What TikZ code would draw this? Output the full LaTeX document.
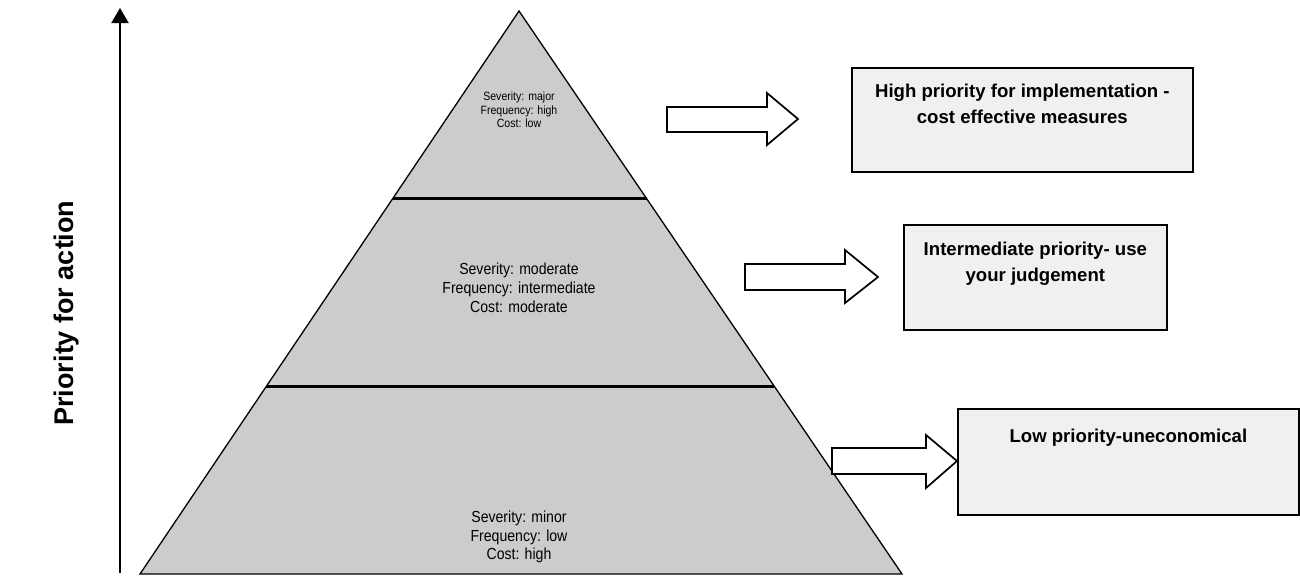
\documentclass[tikz,border=0pt]{standalone}
\usepackage{fontspec}
\setmainfont{Liberation Sans}
\newfontfamily\condfont[FakeStretch=0.88]{Liberation Sans}
\usetikzlibrary{arrows.meta,calc}
\definecolor{pyrfill}{RGB}{204,204,204}
\definecolor{boxfill}{RGB}{240,240,240}
\begin{document}
\begin{tikzpicture}[x=1pt,y=-1pt,
  pyramid/.style={draw=black, fill=pyrfill, line width=1.3pt, line join=miter},
  divider/.style={draw=black, line width=2.5pt},
  toptext/.style={font=\condfont\fontsize{12}{13.3}\selectfont, align=center, inner sep=0pt},
  pyrtext/.style={font=\condfont\fontsize{16}{18.8}\selectfont, align=center, inner sep=0pt},
  resbox/.style={draw=black, fill=boxfill, line width=1.7pt, rectangle, inner sep=0pt, anchor=north west},
  boxtext/.style={font=\bfseries\fontsize{18.6}{26}\selectfont, align=center, inner sep=0pt},
  blockarrow/.style={draw=black, fill=white, line width=1.7pt, line join=miter},
  axisline/.style={draw=black, line width=2pt, -{Triangle[width=17pt,length=15pt]}},
  axislabel/.style={font=\bfseries\fontsize{27}{30}\selectfont, inner sep=0pt}
]
\useasboundingbox (0,0) rectangle (1300,576);

% axis
\coordinate (axb) at (120,573);
\coordinate (axt) at (120,8);
\draw[axisline] (axb) -- (axt);
\node[axislabel, rotate=90] (lab) at (67,313) {Priority for action};

% pyramid
\coordinate (apex) at (519,11);
\coordinate (bl) at (140,574);
\coordinate (br) at (902,574);
\path[pyramid] (apex) -- (br) -- (bl) -- cycle;
\draw[divider] ($(apex)!1/3!(bl)$) -- ($(apex)!1/3!(br)$);
\draw[divider] ($(apex)!2/3!(bl)$) -- ($(apex)!2/3!(br)$);

\node[toptext] (p1) at (519,110) {Severity: major\\Frequency: high\\Cost: low};
\node[pyrtext] (p2) at (519,288) {Severity: moderate\\Frequency: intermediate\\Cost: moderate};
\node[pyrtext] (p3) at (519,537) {Severity: minor\\Frequency: low\\Cost: high};

% block arrows
\path[blockarrow] (667,107) -- (767,107) -- (767,93) -- (798,119) -- (767,145) -- (767,132) -- (667,132) -- cycle;
\path[blockarrow] (745,264) -- (845,264) -- (845,250) -- (878,277) -- (845,303) -- (845,290) -- (745,290) -- cycle;
\path[blockarrow] (832,448) -- (926,448) -- (926,435) -- (957,461) -- (926,488) -- (926,474) -- (832,474) -- cycle;

% result boxes
\node[resbox, minimum width=341pt, minimum height=104pt] (b1) at (851,67) {};
\node[boxtext] (t1) at ($(b1.north)+(0,37)$) {High priority for implementation -\\cost effective measures};
\node[resbox, minimum width=263pt, minimum height=105pt] (b2) at (903,224) {};
\node[boxtext] (t2) at ($(b2.north)+(0,40)$) {Intermediate priority- use\\your judgement};
\node[resbox, minimum width=341pt, minimum height=106pt] (b3) at (957,408) {};
\node[boxtext] (t3) at ($(b3.north)+(0,30)$) {Low priority-uneconomical};
\end{tikzpicture}
\end{document}
